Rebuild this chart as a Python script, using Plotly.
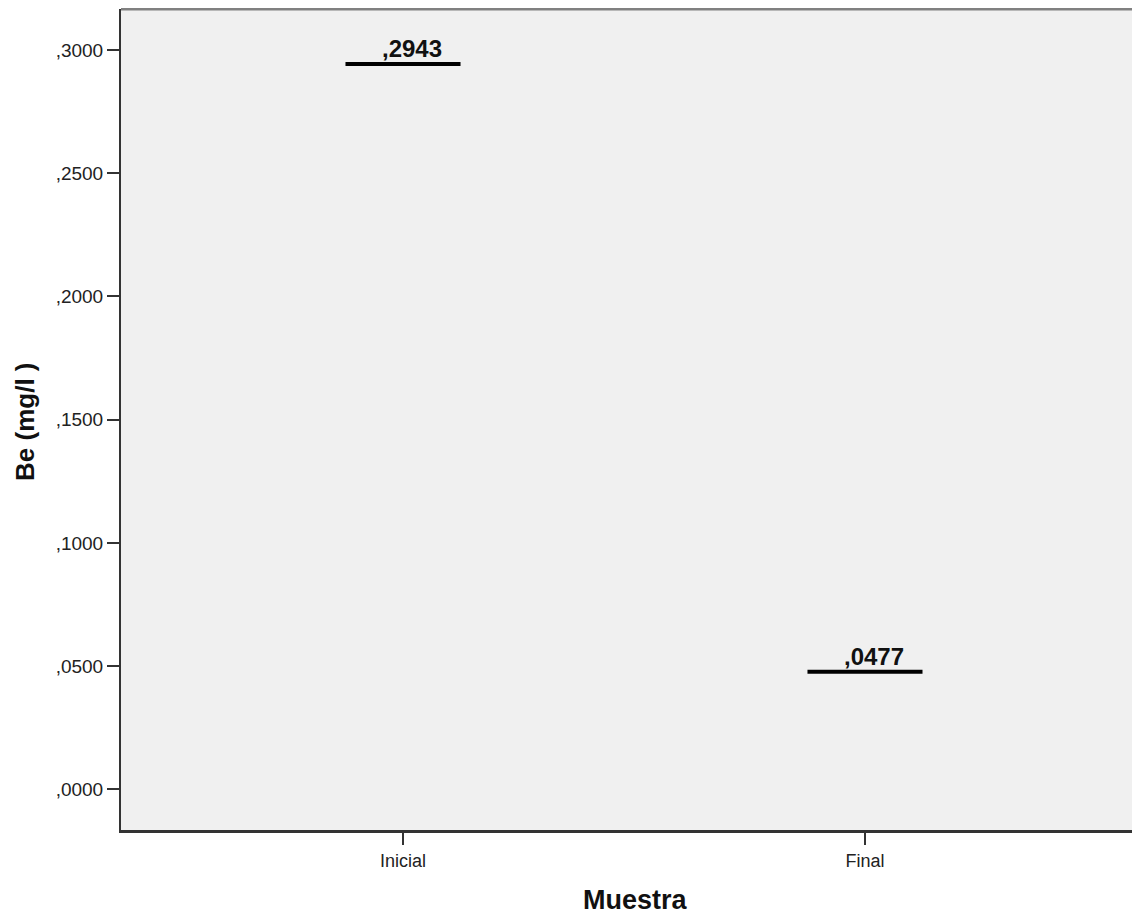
import plotly.graph_objects as go

categories = ["Inicial", "Final"]
means = [0.2943, 0.0477]
y_ticks = [0.0, 0.05, 0.10, 0.15, 0.20, 0.25, 0.30]


def fmt(v):
    return f"{v:.4f}".lstrip("0").replace(".", ",")


FONT = "Liberation Sans, Arial"
half_width = 0.1245
fig = go.Figure()
for i, (cat, v) in enumerate(zip(categories, means)):
    fig.add_trace(go.Scatter(
        x=[i - half_width, i + half_width], y=[v, v], mode="lines",
        line=dict(color="#000000", width=4), showlegend=False, hoverinfo="skip"))
    fig.add_annotation(x=i, y=v, text="<b>" + fmt(v) + "</b>", showarrow=False,
                       xanchor="center", yanchor="bottom", xshift=9, yshift=0,
                       font=dict(family=FONT, size=24, color="#111111"))

# axis titles as annotations for exact placement
fig.add_annotation(xref="paper", yref="paper", x=0, y=0.497, xshift=-96,
                   text="<b>Be (mg/l )</b>", textangle=-90, showarrow=False,
                   xanchor="center", yanchor="middle",
                   font=dict(family=FONT, size=26, color="#111111"))
fig.add_annotation(xref="paper", yref="paper", x=0.5005, y=0, yshift=-70,
                   text="<b>Muestra</b>", showarrow=False,
                   xanchor="center", yanchor="middle",
                   font=dict(family=FONT, size=27, color="#111111"))

fig.update_layout(
    width=1140, height=908,
    margin=dict(l=113, r=0, t=1, b=86),
    paper_bgcolor="#FFFFFF", plot_bgcolor="#F0F0F0",
    font=dict(family=FONT, color="#111111"),
    xaxis=dict(
        range=[-0.6104, 1.6126], tickmode="array",
        tickvals=list(range(len(categories))), ticktext=categories,
        showgrid=False, zeroline=False,
        showline=True, linecolor="#333333", linewidth=3,
        ticks="outside", ticklen=12, tickwidth=2, tickcolor="#333333",
        tickfont=dict(size=18, color="#222222"),
    ),
    yaxis=dict(
        range=[-0.01652, 0.31664], tickmode="array",
        tickvals=y_ticks, ticktext=[fmt(t) for t in y_ticks],
        showgrid=False, zeroline=False,
        showline=True, linecolor="#333333", linewidth=2,
        ticks="outside", ticklen=12, tickwidth=2, tickcolor="#333333",
        tickfont=dict(size=19, color="#222222"),
    ),
)
# top frame line (grey)
fig.add_shape(type="line", xref="paper", yref="paper", x0=0, x1=1, y0=1, y1=1,
              line=dict(color="#808080", width=3))

fig.write_html(
    "out.html",
    post_script="document.documentElement.style.overflow='hidden';"
                "document.body.style.overflow='hidden';",
)
